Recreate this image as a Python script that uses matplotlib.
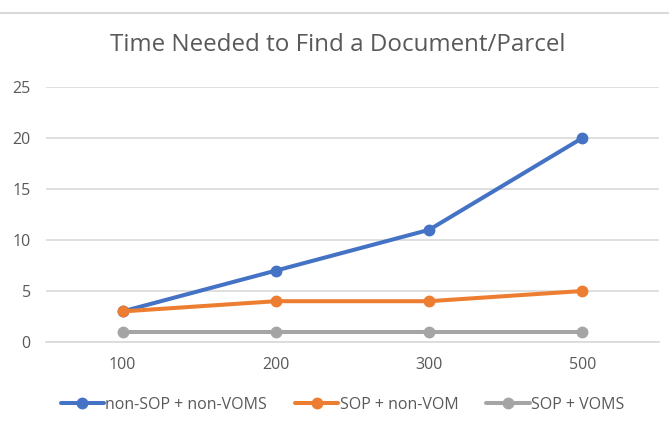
import matplotlib
matplotlib.use("Agg")
import matplotlib.pyplot as plt
from matplotlib.lines import Line2D

categories = ["100", "200", "300", "500"]
series_names = ["non-SOP + non-VOMS", "SOP + non-VOM", "SOP + VOMS"]
non_sop_non_voms = [3, 7, 11, 20]
sop_non_vom = [3, 4, 4, 5]
sop_voms = [1, 1, 1, 1]
y_ticks = [0, 5, 10, 15, 20, 25]
title = "Time Needed to Find a Document/Parcel"

colors = ["#4472C4", "#ED7D31", "#A5A5A5"]
text_color = "#595959"
grid_color = "#D9D9D9"

plt.rcParams['font.family'] = ['Open Sans', 'DejaVu Sans']

fig = plt.figure(figsize=(6.69, 4.28), dpi=100)
ax = fig.add_axes([46/669, 1 - 342/428, (659-46)/669, (342-87)/428])

x = list(range(len(categories)))
for vals, c, name in zip([non_sop_non_voms, sop_non_vom, sop_voms], colors, series_names):
    ax.plot(x, vals, color=c, lw=2.9, marker='o', markersize=7.5, label=name,
            solid_capstyle='round', zorder=3)

ax.set_xlim(-0.5, len(categories) - 0.5)
ax.set_ylim(0, 25)
ax.set_xticks(x)
ax.set_xticklabels(categories)
ax.set_yticks(y_ticks)
ax.yaxis.grid(True, color=grid_color, lw=1.2)
ax.set_axisbelow(True)
for s in ["top", "right", "left"]:
    ax.spines[s].set_visible(False)
ax.spines["bottom"].set_color(grid_color)
ax.spines["bottom"].set_linewidth(1.2)
ax.tick_params(axis='both', length=0, colors=text_color, labelsize=11.5)
ax.tick_params(axis='x', pad=11)
ax.tick_params(axis='y', pad=11)

fig.text(0.5 + 3/669, 1 - 45/428, title, ha='center', va='center', fontsize=17.4,
         color=text_color)

# top border line
fig.add_artist(Line2D([0, 1], [1 - 13/428, 1 - 13/428], color=grid_color, lw=1.5,
                      transform=fig.transFigure))

leg = fig.legend(loc='center', bbox_to_anchor=(0.5 + 8/669, 1 - 405/428), ncol=3,
                 frameon=False, fontsize=11.5, handlelength=2.7, handletextpad=0.1,
                 columnspacing=1.75, labelcolor=text_color)

fig.savefig("out.png", dpi=100)
